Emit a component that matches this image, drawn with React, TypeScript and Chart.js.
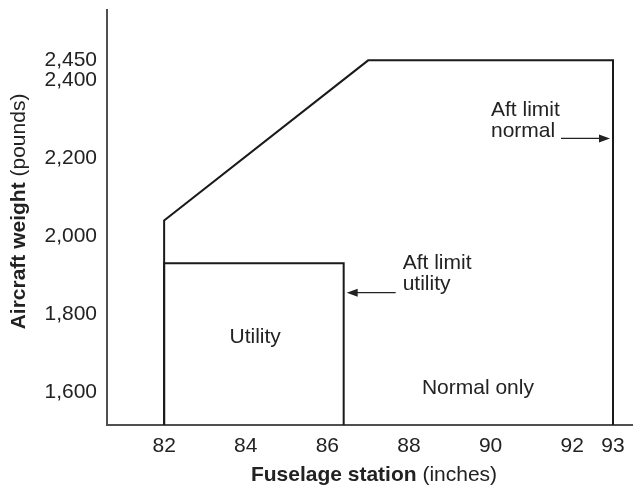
import React, { useEffect, useRef } from 'react';
import { Chart, registerables } from 'chart.js';

Chart.register(...registerables);

// ---- data ----
const xTickValues = [82, 84, 86, 88, 90, 92, 93];
const yTickValues = [1600, 1800, 2000, 2200, 2400, 2450];
const xRange = [80.6, 93.49];
const yRange = [1516, 2579];

const normalStation = [82, 82, 87.0, 93, 93];
const normalWeight = [1516, 2040, 2450, 2450, 1516];

const utilityStation = [82, 82, 86.4, 86.4];
const utilityWeight = [1516, 1930, 1930, 1516];

const areaLabels = ['Utility', 'Normal only'];
const areaLabelStation = [84.23, 89.69];
const areaLabelWeight = [1740, 1611];

const limitLabels = [['Aft limit', 'normal'], ['Aft limit', 'utility']];
const limitStation = [93, 86.4];
const limitWeight = [2250, 1855];

const FONT = '"Liberation Sans", Arial, Helvetica, sans-serif';
const INK = '#222';

const annotationPlugin = {
  id: 'annotations',
  afterDatasetsDraw(chart: any) {
    const { ctx, scales } = chart;
    const xs = scales.x;
    const ys = scales.y;
    ctx.save();
    ctx.fillStyle = INK;
    ctx.strokeStyle = INK;
    ctx.font = `21px ${FONT}`;
    ctx.textAlign = 'center';
    ctx.textBaseline = 'middle';
    areaLabels.forEach((t, i) => {
      ctx.fillText(t, xs.getPixelForValue(areaLabelStation[i]), ys.getPixelForValue(areaLabelWeight[i]));
    });

    ctx.textBaseline = 'alphabetic';
    ctx.textAlign = 'left';
    limitLabels.forEach((lines, i) => {
      const lx = xs.getPixelForValue(limitStation[i]);
      const ly = ys.getPixelForValue(limitWeight[i]);
      const textOnLeft = i === 0;
      const dir = textOnLeft ? 1 : -1; // arrow points right when text is on left
      const tipX = lx - dir * 3;
      const tailX = tipX - dir * 49;
      ctx.lineWidth = 1.3;
      ctx.beginPath();
      ctx.moveTo(tailX, ly);
      ctx.lineTo(tipX - dir * 8, ly);
      ctx.stroke();
      ctx.beginPath();
      ctx.moveTo(tipX, ly);
      ctx.lineTo(tipX - dir * 11, ly - 4);
      ctx.lineTo(tipX - dir * 11, ly + 4);
      ctx.closePath();
      ctx.fill();
      if (textOnLeft) {
        const left = tailX - 70;
        ctx.fillText(lines[0], left, ly - 22);
        ctx.fillText(lines[1], left, ly - 1);
      } else {
        const left = tailX + 7;
        ctx.fillText(lines[0], left, ly - 24);
        ctx.fillText(lines[1], left, ly - 3);
      }
    });
    ctx.restore();
  },
  afterDraw(chart: any) {
    const { ctx, chartArea } = chart;
    ctx.save();
    ctx.fillStyle = INK;
    ctx.textBaseline = 'middle';
    ctx.textAlign = 'left';
    const drawMixed = (bold: string, reg: string, cx: number, cy: number) => {
      ctx.font = `bold 21px ${FONT}`;
      const wb = ctx.measureText(bold).width;
      ctx.font = `21px ${FONT}`;
      const wr = ctx.measureText(reg).width;
      const start = cx - (wb + wr) / 2;
      ctx.font = `bold 21px ${FONT}`;
      ctx.fillText(bold, start, cy);
      ctx.font = `21px ${FONT}`;
      ctx.fillText(reg, start + wb, cy);
    };
    drawMixed('Fuselage station', ' (inches)', (chartArea.left + chartArea.right) / 2 + 4, 475);
    ctx.translate(19, (chartArea.top + chartArea.bottom) / 2 - 6);
    ctx.rotate(-Math.PI / 2);
    drawMixed('Aircraft weight', ' (pounds)', 0, 0);
    ctx.restore();
  },
};

export default function App() {
  const ref = useRef<HTMLCanvasElement | null>(null);
  useEffect(() => {
    document.body.style.margin = '0';
    const canvas = ref.current;
    if (!canvas) return;
    const line = {
      borderColor: '#1a1a1a',
      borderWidth: 2,
      pointRadius: 0,
      showLine: true,
      fill: false,
      tension: 0,
    };
    const chart = new Chart(canvas, {
      type: 'scatter',
      data: {
        datasets: [
          { label: 'Normal', data: normalStation.map((x, i) => ({ x, y: normalWeight[i] })), ...line },
          { label: 'Utility', data: utilityStation.map((x, i) => ({ x, y: utilityWeight[i] })), ...line },
        ],
      },
      options: {
        animation: false,
        responsive: false,
        layout: { padding: { top: 10, right: 0, left: 0, bottom: 0 } },
        plugins: { legend: { display: false }, tooltip: { enabled: false } },
        scales: {
          x: {
            type: 'linear',
            min: xRange[0],
            max: xRange[1],
            grid: { display: false, drawTicks: false },
            border: { color: '#505050', width: 2 },
            afterBuildTicks: (s: any) => {
              s.ticks = xTickValues.map((v) => ({ value: v }));
            },
            afterFit: (s: any) => {
              s.height = 63;
              s.paddingLeft = 0;
              s.paddingRight = 0;
            },
            ticks: {
              autoSkip: false,
              maxRotation: 0,
              padding: 9,
              color: INK,
              font: { family: FONT, size: 21 },
              callback: (v: any) => String(v),
            },
          },
          y: {
            type: 'linear',
            min: yRange[0],
            max: yRange[1],
            grid: { display: false, drawTicks: false },
            border: { color: '#505050', width: 2 },
            afterBuildTicks: (s: any) => {
              s.ticks = yTickValues.map((v) => ({ value: v }));
            },
            afterFit: (s: any) => {
              s.width = 107;
              s.paddingTop = 0;
              s.paddingBottom = 0;
            },
            ticks: {
              autoSkip: false,
              padding: 10,
              color: INK,
              font: { family: FONT, size: 21 },
              callback: (v: any) => Number(v).toLocaleString('en-US'),
            },
          },
        },
      },
      plugins: [annotationPlugin],
    } as any);
    return () => chart.destroy();
  }, []);
  return (
    <div style={{ width: 633, height: 488 }}>
      <canvas ref={ref} width={633} height={488} style={{ display: 'block', width: 633, height: 488 }} />
    </div>
  );
}
